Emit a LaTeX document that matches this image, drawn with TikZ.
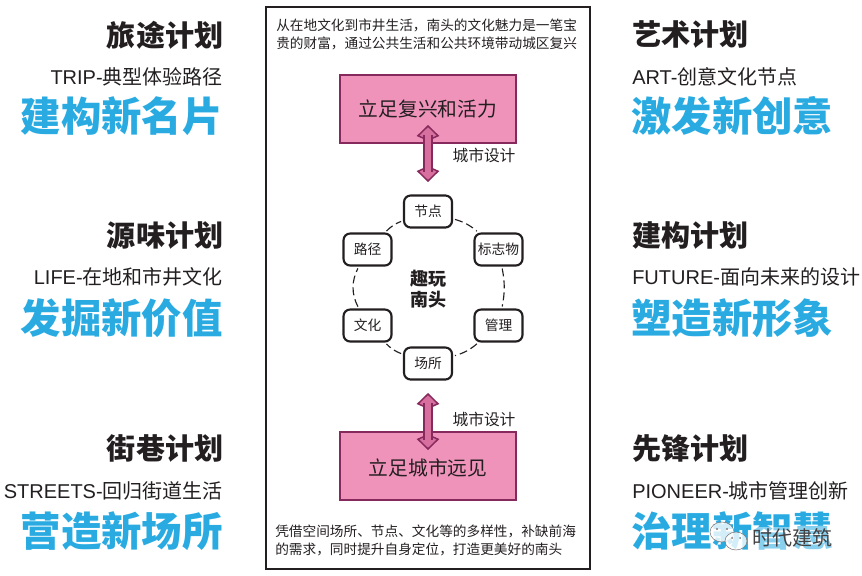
\documentclass[tikz,border=0pt]{standalone}
\usepackage{fontspec}
\setmainfont{Noto Sans CJK SC}
\newfontfamily\latinfont{Liberation Sans}
\usetikzlibrary{positioning,arrows.meta}

\definecolor{inkgray}{HTML}{231F20}
\definecolor{planblue}{HTML}{29ABE2}
\definecolor{boxpink}{HTML}{F093BB}
\definecolor{boxedge}{HTML}{86295C}
\definecolor{arrowpink}{HTML}{D8709F}

\tikzset{
    plantitle/.style={inner sep=0, text=inkgray, font=\fontsize{21.8}{26}\selectfont\bfseries},
    plansub/.style={inner sep=0, text=inkgray, font=\fontsize{15}{18}\selectfont},
    planslogan/.style={inner sep=0, text=planblue, font=\fontsize{30.3}{36}\selectfont\bfseries},
    notetext/.style={inner sep=0, text=inkgray, align=left, font=\fontsize{10.25}{13.5}\selectfont},
    goalbox/.style={draw=boxedge, fill=boxpink, line width=1.2pt, minimum width=132pt, minimum height=51pt, inner sep=0, text=inkgray, font=\fontsize{14.8}{18}\selectfont},
    ringbox/.style={draw=inkgray, fill=white, line width=1.6pt, rounded corners=5pt, minimum width=36pt, minimum height=24pt, inner sep=0, text=inkgray, font=\fontsize{10.3}{13}\selectfont},
    ringline/.style={draw=inkgray, line width=0.85pt, dash pattern=on 6pt off 3pt, shorten >=1.5pt, shorten <=1.5pt},
    designlabel/.style={inner sep=0, text=inkgray, font=\fontsize{11.8}{14}\selectfont},
    blockarrow/.style={draw=boxedge, line width=1.1pt, double=arrowpink, double distance=4.6pt,
        {Kite[length=12pt, width=17pt, inset=3.75pt, line width=1.1pt, fill=arrowpink]}-{Kite[length=12pt, width=17pt, inset=3.75pt, line width=1.1pt, fill=arrowpink]}},
    blockshaft/.style={draw=boxedge, line width=1.1pt, double=arrowpink, double distance=4.6pt, shorten >=7.5pt, shorten <=7.5pt},
    bubbleline/.style={draw=inkgray!60, line width=0.4pt, fill=white, fill opacity=0.8},
}

\begin{document}
\begin{tikzpicture}[x=0.75pt, y=-0.75pt]
    \useasboundingbox (0,0) rectangle (862,575);

    % left column
    \node[plantitle, anchor=east] (tripname) at (223.5,35) {旅途计划};
    \node[plansub, anchor=east] (tripsub) at (223,77) {{\latinfont TRIP-}典型体验路径};
    \node[planslogan, anchor=east] (tripslogan) at (223,116) {建构新名片};
    \node[plantitle, anchor=east] (lifename) at (223.5,236) {源味计划};
    \node[plansub, anchor=east] (lifesub) at (223,277) {{\latinfont LIFE-}在地和市井文化};
    \node[planslogan, anchor=east] (lifeslogan) at (223,318) {发掘新价值};
    \node[plantitle, anchor=east] (streetname) at (223.5,449) {街巷计划};
    \node[plansub, anchor=east] (streetsub) at (223,491) {{\latinfont STREETS-}回归街道生活};
    \node[planslogan, anchor=east] (streetslogan) at (223,531) {营造新场所};

    % right column
    \node[plantitle, anchor=west] (artname) at (632,35) {艺术计划};
    \node[plansub, anchor=west] (artsub) at (632,77) {{\latinfont ART-}创意文化节点};
    \node[planslogan, anchor=west] (artslogan) at (631,116) {激发新创意};
    \node[plantitle, anchor=west] (futurename) at (632,236) {建构计划};
    \node[plansub, anchor=west] (futuresub) at (632,277) {{\latinfont FUTURE-}面向未来的设计};
    \node[planslogan, anchor=west] (futureslogan) at (631,318) {塑造新形象};
    \node[plantitle, anchor=west] (pioneername) at (632,449) {先锋计划};
    \node[plansub, anchor=west] (pioneersub) at (632,491) {{\latinfont PIONEER-}城市管理创新};
    \node[planslogan, anchor=west] (pioneerslogan) at (631,531) {治理新智慧};

    % middle panel
    \draw[inkgray, line width=1.5pt] (266,7) rectangle (590,569);
    \node[notetext, anchor=west] (topnote) at (276,34.5) {从在地文化到市井生活，南头的文化魅力是一笔宝\\贵的财富，通过公共生活和公共环境带动城区复兴};
    \node[notetext, anchor=west] (bottomnote) at (275,540) {凭借空间场所、节点、文化等的多样性，补缺前海\\的需求，同时提升自身定位，打造更美好的南头};
    \node[goalbox] (topgoal) at (428,109) {立足复兴和活力};
    \node[goalbox] (bottomgoal) at (428,466) {};
    \node[inner sep=0, text=inkgray, font=\fontsize{14.8}{18}\selectfont] (bottomgoaltext) at (428,468) {立足城市远见};

    % ring
    \node[ringbox] (jiedian) at (428,211.5) {节点};
    \node[ringbox] (biaozhi) at (498.5,249.5) {标志物};
    \node[ringbox] (guanli) at (498.5,325.5) {管理};
    \node[ringbox] (changsuo) at (428,363.5) {场所};
    \node[ringbox] (wenhua) at (367.5,325.5) {文化};
    \node[ringbox] (lujing) at (367.5,249.5) {路径};
    \node[inner sep=0, align=center, text=inkgray, font=\fontsize{13.5}{15.8}\selectfont\bfseries] (quwan) at (428,289.5) {趣玩\\南头};
    \draw[ringline] (jiedian) to[bend left=12] (biaozhi);
    \draw[ringline] (biaozhi) to[bend left=11] (guanli);
    \draw[ringline] (guanli) to[bend left=12] (changsuo);
    \draw[ringline] (changsuo) to[bend left=12] (wenhua);
    \draw[ringline] (wenhua) to[bend left=27] (lujing);
    \draw[ringline] (lujing) to[bend left=12] (jiedian);

    % arrows
    \coordinate (uptop) at (428,125);
    \coordinate (upend) at (428,182);
    \coordinate (downtop) at (428,393);
    \coordinate (downend) at (428,450);
    \draw[blockarrow] (uptop) -- (upend);
    \draw[blockshaft] (uptop) -- (upend);
    \draw[blockarrow] (downtop) -- (downend);
    \draw[blockshaft] (downtop) -- (downend);
    \node[designlabel] (updesign) at (484,155) {城市设计};
    \node[designlabel] (downdesign) at (484,419) {城市设计};

    % watermark
    \fill[white, opacity=0.45, rounded corners=3pt] (751,527) rectangle (834,550);
    \draw[bubbleline] (722,532) ellipse[x radius=12, y radius=10];
    \draw[bubbleline] (736,541) ellipse[x radius=11, y radius=9];
    \fill[inkgray!60] (717,529) circle[radius=1.2] (727,529) circle[radius=1.2] (732,538) circle[radius=1] (740,538) circle[radius=1];
    \node[inner sep=0, text=inkgray!85, font=\fontsize{15}{18}\selectfont] (marktext) at (792.5,537.5) {时代建筑};
\end{tikzpicture}
\end{document}
